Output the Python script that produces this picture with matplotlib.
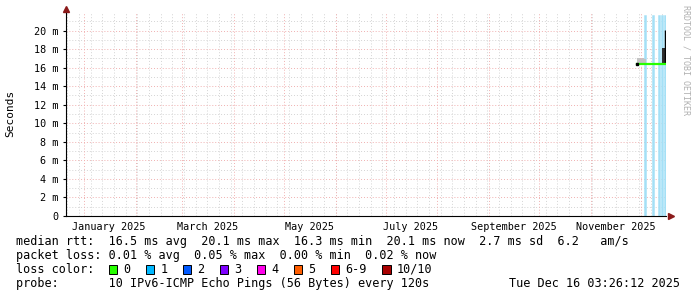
import matplotlib
matplotlib.use('Agg')
import matplotlib.pyplot as plt
import matplotlib.dates as mdates
import pandas as pd
from matplotlib.patches import Rectangle
from matplotlib.ticker import FuncFormatter

# time window of the graph (360 days ending at the graph timestamp)
t_start = '2024-12-21 03:26:12'
t_end = '2025-12-16 03:26:12'

# daily consolidated points (median rtt in ms)
days = ['2025-11-29', '2025-11-30', '2025-12-01', '2025-12-02', '2025-12-03',
        '2025-12-04', '2025-12-05', '2025-12-06', '2025-12-07', '2025-12-08',
        '2025-12-09', '2025-12-10', '2025-12-11', '2025-12-12', '2025-12-13',
        '2025-12-14', '2025-12-15']
median_ms = [16.4, 16.4, 16.4, 16.4, 16.4, 16.4, 16.4, 16.4, 16.4, 16.4,
             16.4, 16.4, 16.4, 16.4, 16.4, 16.4, 16.4]
# upper edge of the light smoke (first days only)
smoke_days = ['2025-11-29', '2025-11-30', '2025-12-01', '2025-12-02', '2025-12-03', '2025-12-04']
smoke_hi = [17.0, 17.0, 16.9, 17.0, 16.9, 16.9]
# dark smoke at the end
dark_days = ['2025-12-14', '2025-12-15', '2025-12-16']
dark_hi = [18.1, 18.1, 18.1]
spike_day = '2025-12-15 12:00'
spike_ms = 20.1
# packet loss events (loss color 1)
loss_times = ['2025-12-03 12:00', '2025-12-08 08:00', '2025-12-11 22:00',
              '2025-12-13 17:00', '2025-12-15 18:00']

# x-axis labels (mid-month) and grid
label_months = ['2025-01-16', '2025-03-16', '2025-05-16', '2025-07-16', '2025-09-16', '2025-11-16']
month_starts = pd.date_range('2025-01-01', '2025-12-01', freq='MS')
week_lines = pd.date_range('2024-12-22', '2025-12-14', freq='W-SUN')

# legend
loss_labels = ['0', '1', '2', '3', '4', '5', '6-9', '10/10']
loss_colors = ['#26ff00', '#00b8ff', '#0059ff', '#7e00ff', '#ff00ea', '#ff5e00', '#ff0000', '#a80000']
rtt_line = 'median rtt:  16.5 ms avg  20.1 ms max  16.3 ms min  20.1 ms now  2.7 ms sd  6.2   am/s'
loss_line = 'packet loss: 0.01 % avg  0.05 % max  0.00 % min  0.02 % now'
probe_line = 'probe:       10 IPv6-ICMP Echo Pings (56 Bytes) every 120s'
stamp = 'Tue Dec 16 03:26:12 2025'

mono = 'DejaVu Sans Mono'
W, H = 697, 297


def d(s):
    return mdates.date2num(pd.to_datetime(s))


fig = plt.figure(figsize=(W / 100, H / 100), dpi=100)
fig.patch.set_facecolor('white')
ax = fig.add_axes([66 / W, 1 - 216 / H, 600 / W, 203 / H])

ymax = 21.9
ax.set_xlim(d(t_start), d(t_end))
ax.set_ylim(0, ymax)

# grid
dot = (0, (1, 2))
for w in week_lines:
    ax.axvline(d(w), color='#d4d4d4', lw=0.7, ls=dot, zorder=0)
for v in range(1, 22, 2):
    ax.axhline(v, color='#d4d4d4', lw=0.7, ls=dot, zorder=0)
for m in month_starts:
    ax.axvline(d(m), color='#f0b0b0', lw=0.7, ls=dot, zorder=1)
for v in range(2, 22, 2):
    ax.axhline(v, color='#f0b0b0', lw=0.7, ls=dot, zorder=1)

# loss bars
for t in loss_times:
    ax.axvline(d(t), ymin=0, ymax=(ymax - 0.3) / ymax, color='#a4e0f6', lw=1.8, zorder=2)

# smoke
sx = [d(s) for s in smoke_days]
ax.fill_between(sx, [median_ms[0]] * len(sx), smoke_hi, step='post', color='#c4c4c4', lw=0, zorder=3)
dx = [d(s) for s in dark_days]
ax.fill_between(dx, [median_ms[-1]] * len(dx), dark_hi, step='post', color='#2e2e2e', lw=0, zorder=3)
ax.vlines(d(spike_day), median_ms[-1], spike_ms, color='black', lw=1.0, zorder=4)

# median line
mx = [d(s) for s in days] + [d(t_end)]
ax.step(mx, median_ms + [median_ms[-1]], where='post', color='#26ff00', lw=1.6, zorder=5)
ax.plot([mx[0]], [median_ms[0]], marker='s', ms=1.6, color='black', zorder=6)

# axes styling
for s in ['top', 'right']:
    ax.spines[s].set_visible(False)
ax.spines['left'].set_color('black')
ax.spines['bottom'].set_color('black')
ax.spines['left'].set_linewidth(0.8)
ax.spines['bottom'].set_linewidth(0.8)

ax.set_yticks(range(0, 21, 2))
ax.yaxis.set_major_formatter(FuncFormatter(lambda v, p: '0' if v == 0 else f'{v:.0f} m'))
ax.tick_params(axis='y', length=2.5, width=0.8, pad=3, labelsize=7.3)
ax.set_xticks([d(m) for m in label_months])
ax.set_xticklabels([pd.to_datetime(m).strftime('%B %Y') for m in label_months])
ax.tick_params(axis='x', length=0, pad=4, labelsize=7.3)
for lab in ax.get_xticklabels() + ax.get_yticklabels():
    lab.set_family(mono)

# arrows at axis ends
ax.plot([0], [1.02], marker='^', ms=4.5, color='#8b1a1a', transform=ax.transAxes, clip_on=False)
ax.plot([1.008], [0], marker='>', ms=4.5, color='#8b1a1a', transform=ax.transAxes, clip_on=False)

fig.text(10 / W, 1 - 113 / H, 'Seconds', rotation=90, ha='center', va='center',
         family=mono, fontsize=8)
fig.text(686 / W, 1 - 60 / H, 'RRDTOOL / TOBI OETIKER', rotation=270, ha='center', va='center',
         family=mono, fontsize=6, color='#b0b0b0')

# legend text
fs = 8.5
fig.text(16 / W, 1 - 245 / H, rtt_line, family=mono, fontsize=fs, va='baseline')
fig.text(16 / W, 1 - 259 / H, loss_line, family=mono, fontsize=fs, va='baseline')
fig.text(16 / W, 1 - 273 / H, 'loss color:', family=mono, fontsize=fs, va='baseline')
fig.text(16 / W, 1 - 287 / H, probe_line, family=mono, fontsize=fs, va='baseline')
fig.text(680 / W, 1 - 287 / H, stamp, family=mono, fontsize=fs, va='baseline', ha='right')

box_x = [108.5, 145.5, 182.5, 219.5, 256.5, 293.5, 330.5, 382]
for bx, lab, col in zip(box_x, loss_labels, loss_colors):
    fig.patches.append(Rectangle((bx / W, 1 - 273.5 / H), 8.5 / W, 8.5 / H, transform=fig.transFigure,
                                 facecolor=col, edgecolor='black', lw=0.7))
    fig.text((bx + 15) / W, 1 - 273 / H, lab, family=mono, fontsize=fs, va='baseline')

fig.savefig('out.png', dpi=100)
